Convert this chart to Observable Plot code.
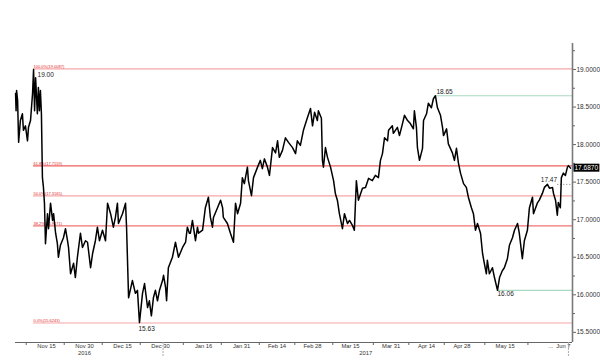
<!DOCTYPE html>
<html><head><meta charset="utf-8">
<script src="https://cdn.jsdelivr.net/npm/d3@7"></script>
<script src="https://cdn.jsdelivr.net/npm/@observablehq/plot@0.6"></script>
<style>
body{margin:0;background:#fff}
svg{font-family:"Liberation Sans",Arial,sans-serif}
</style>
</head><body><div id="chart"></div>
<script>
// ---- data ----
const startDate = "2016-11-15";
// days since startDate
const dayOffsets = [
-12.2,-12.0,-11.8,-11.4,-11.0,-10.3,-9.5,-9.1,-8.3,-7.5,-7.1,-6.3,-5.5,-5.1,-4.7,-4.3,-3.6,-3.2,-2.8,-2.4,
-2.0,-1.6,-1.2,-0.8,-0.4,0.4,0.8,1.6,2.4,2.8,3.6,4.3,4.7,5.5,6.7,7.5,8.3,8.7,9.5,10.7,
11.4,12.2,13.4,14.2,15.4,16.2,17.4,18.2,19.3,20.1,20.9,22.1,23.3,24.1,25.3,26.4,27.2,28.0,28.4,30.0,
31.2,31.6,32.4,33.9,35.1,35.9,36.7,37.9,38.7,39.9,40.6,41.4,42.2,43.0,43.8,44.6,45.8,46.2,47.0,47.4,
48.1,49.7,50.9,52.1,53.7,54.9,55.6,56.4,56.8,57.6,58.0,58.8,59.6,60.0,61.6,62.7,63.9,64.7,65.5,65.9,
67.5,68.7,69.5,69.8,71.4,72.6,73.8,74.6,75.4,76.6,77.3,78.1,79.3,79.7,80.9,81.7,83.3,84.4,85.2,86.0,
87.2,88.0,89.2,90.4,91.2,91.9,93.1,94.3,95.5,97.1,98.3,99.0,100.2,101.4,103.0,104.2,105.0,105.8,106.9,107.3,
108.5,108.9,109.3,110.1,110.9,112.1,113.3,114.0,114.8,115.6,116.8,117.6,118.8,119.6,120.8,121.5,122.3,123.1,124.7,125.9,
127.1,128.6,129.8,131.0,131.8,132.6,133.4,134.6,135.0,136.5,136.9,138.5,139.3,140.5,141.3,142.5,143.6,144.8,145.2,146.0,
146.4,147.2,148.4,148.8,150.0,150.7,151.9,152.7,153.5,154.3,155.5,156.3,156.7,157.9,158.6,160.2,161.0,161.8,162.6,163.4,
164.6,165.7,166.5,167.7,168.5,169.3,170.1,171.3,172.1,172.8,173.6,174.0,174.8,176.0,176.8,178.0,178.8,179.9,180.7,181.9,
182.7,183.9,184.7,185.9,186.6,187.8,188.6,189.8,190.6,191.8,192.2,193.7,194.5,195.7,196.5,197.7,198.5,199.7,200.1,200.9,
201.6,202.0,202.8,203.2,204.0,204.8,205.6,206.0,206.8
];
const prices = [
18.68,18.45,18.72,18.59,18.03,18.32,18.41,18.19,18.25,18.05,18.23,18.32,18.68,19.00,18.45,18.89,18.41,18.76,18.45,18.72,
18.41,17.56,17.43,17.22,16.68,17.08,16.88,17.22,16.99,17.08,16.82,16.68,16.50,16.66,16.76,16.88,16.72,16.63,16.28,16.42,
16.23,16.50,16.82,16.63,16.72,16.70,16.36,16.55,16.72,16.90,16.72,16.86,16.72,17.22,17.08,16.90,17.03,17.22,16.95,17.08,
17.22,16.90,15.96,16.19,16.02,16.06,15.63,16.02,16.15,15.83,15.92,15.72,15.96,16.06,15.92,16.06,16.19,16.26,16.10,15.92,
16.36,16.50,16.70,16.50,16.63,16.70,16.90,16.82,16.82,16.99,16.90,16.72,16.90,16.82,16.86,17.16,17.30,17.03,16.90,17.03,
17.16,17.26,17.16,17.03,16.95,16.82,16.70,17.22,17.08,17.22,17.56,17.48,17.70,17.52,17.32,17.56,17.70,17.79,17.68,17.81,
17.70,17.59,17.96,17.89,18.05,17.83,17.92,18.09,18.03,17.96,17.88,18.05,17.99,18.19,18.36,18.48,18.25,18.43,18.32,18.45,
18.35,17.79,17.70,17.96,17.83,17.70,17.52,17.35,17.26,17.08,16.88,17.08,16.95,16.99,16.92,16.86,17.52,17.26,17.42,17.43,
17.55,17.52,17.59,17.56,17.79,17.88,18.09,18.05,18.19,18.25,18.15,18.23,18.12,18.28,18.39,18.32,18.28,18.21,18.45,18.23,
17.96,17.79,17.95,18.32,18.41,18.55,18.49,18.61,18.65,18.49,18.39,18.23,18.12,18.21,18.01,17.89,17.79,17.95,17.75,17.62,
17.48,17.43,17.30,17.16,17.08,16.86,16.95,16.82,16.55,16.42,16.28,16.46,16.28,16.36,16.23,16.06,16.23,16.32,16.36,16.48,
16.66,16.76,16.86,16.95,16.82,16.48,16.72,16.86,17.16,17.30,17.08,17.22,17.26,17.35,17.43,17.47,17.42,17.43,17.35,17.26,
17.06,17.23,17.16,17.56,17.62,17.59,17.70,17.72,17.687
];

const tickDates = ["2016-11-15","2016-11-30","2016-12-15","2016-12-30","2017-01-16","2017-01-31","2017-02-14","2017-02-28","2017-03-15","2017-03-31","2017-04-14","2017-04-28","2017-05-15","2017-06-02","2017-06-07"];
const tickLabels = ["Nov 15","Nov 30","Dec 15","Dec 30","Jan 16","Jan 31","Feb 14","Feb 28","Mar 15","Mar 31","Apr 14","Apr 28","May 15","...","Jun 7"];
const minorTickDates = ["2016-11-07","2016-11-22","2016-12-07","2016-12-22","2017-01-08","2017-01-23","2017-02-07","2017-02-21","2017-03-08","2017-03-24","2017-04-07","2017-04-21","2017-05-07","2017-05-24"];
const yearLabels = ["2016","2017"];
const yearDates = ["2016-11-30","2017-03-21"];
const separatorDates = ["2016-12-31","2017-06-09"];

const priceTicks = [15.5,16,16.5,17,17.5,18,18.5,19];
const minorPriceTicks = [15.75,16.25,16.75,17.25,17.75,18.25,18.75,19.25];

const fibPct = ["100.0%","61.8%","50.0%","38.2%","0.0%"];
const fibLevels = [19.0087,17.7159,17.3165,16.9171,15.6243];
const fibColors = ["#f6a6a6","#ef5f5f","#f6a6a6","#f07272","#f6a6a6"];

const annotLabels = ["19.00","15.63","18.65","16.06","17.47"];
const annotDays = [-5.1,36.7,153.5,178.0,197.7];
const annotValues = [19.00,15.63,18.65,16.06,17.47];
const annotAnchor = ["start","start","start","start","middle"];
const annotDx = [4,-1,1,0,1.5];
const annotDy = [5,6,-4,4,-4];

const lastPrice = 17.6870;
const dottedStartDay = 201.8;
const xDomain = ["2016-11-02T18:30Z","2017-06-10T14:20Z"];
const yDomain = [15.365,19.346];

// ---- build ----
const t0 = new Date(startDate + "T00:00Z").getTime();
const toDate = d => new Date(t0 + d * 864e5);
const series = dayOffsets.map((d, i) => ({date: toDate(d), price: prices[i]}));
const xEnd = new Date(xDomain[1]);
const fibStart = toDate(annotDays[0]);
const fib = fibLevels.map((v, i) => ({v, label: `${fibPct[i]}(${v.toFixed(4)})`, color: fibColors[i]}));
const annots = annotLabels.map((t, i) => ({t, date: toDate(annotDays[i]), v: annotValues[i], dx: annotDx[i], dy: annotDy[i], anchor: annotAnchor[i]}));
const labelMap = new Map(tickDates.map((d, i) => [+new Date(d + "T00:00Z"), tickLabels[i]]));

const chart = Plot.plot({
  width: 600, height: 362,
  marginTop: 43, marginBottom: 20, marginLeft: 15, marginRight: 28,
  style: {fontFamily: "'Liberation Sans', Arial, sans-serif", background: "#fff"},
  x: {type: "utc", domain: xDomain.map(d => new Date(d)), label: null},
  y: {domain: yDomain, label: null},
  marks: [
    ...fib.map(f => Plot.ruleY([f.v], {x1: () => fibStart, x2: () => xEnd, stroke: f.color, strokeWidth: 1.2})),
    Plot.text(fib, {x: () => fibStart, y: "v", text: "label", textAnchor: "start", dy: -2.6, fill: "#e02828", fontSize: 4}),
    Plot.ruleY([annotValues[2]], {x1: () => toDate(annotDays[2]), x2: () => xEnd, stroke: "#a9d9c0", strokeWidth: 1.2}),
    Plot.ruleY([annotValues[3]], {x1: () => toDate(annotDays[3]), x2: () => xEnd, stroke: "#a9d9c0", strokeWidth: 1.2}),
    Plot.ruleY([annotValues[4]], {x1: () => toDate(dottedStartDay), x2: () => xEnd, stroke: "#555", strokeWidth: 0.8, strokeDasharray: "1,2"}),
    Plot.line(series, {x: "date", y: "price", stroke: "#000", strokeWidth: 1.5}),
    ...annots.map(a => Plot.text([a], {x: "date", y: "v", text: "t", textAnchor: a.anchor, dx: a.dx, dy: a.dy, fontSize: 6.5, fill: "#222"})),
    // axes
    Plot.ruleY([yDomain[0]], {stroke: "#666", strokeWidth: 1}),
    Plot.ruleX([xEnd], {stroke: "#7a7a7a", strokeWidth: 1.6}),
    Plot.axisY(priceTicks, {anchor: "right", tickSize: 3, tickPadding: 1, tickFormat: d => d.toFixed(4), fontSize: 6.5, fill: "#333", stroke: "#666", label: null}),
    Plot.axisY(minorPriceTicks, {anchor: "right", tickSize: 2, tickFormat: () => "", stroke: "#666", label: null}),
    Plot.axisX(tickDates.map(d => new Date(d + "T00:00Z")), {anchor: "bottom", tickSize: 0, tickPadding: 1, tickFormat: d => labelMap.get(+d), fontSize: 5.8, fill: "#333", label: null}),
    Plot.axisX(minorTickDates.map(d => new Date(d + "T00:00Z")), {anchor: "bottom", tickSize: 3, tickFormat: () => "", stroke: "#666", label: null}),
    Plot.text(yearLabels, {x: (d, i) => new Date(yearDates[i] + "T00:00Z"), text: d => d, frameAnchor: "bottom", dy: 12, fontSize: 5.8, fill: "#333"}),
    Plot.ruleX(separatorDates, {x: d => new Date(d + "T00:00Z"), y1: () => yDomain[0], y2: () => yDomain[0], insetBottom: -14, stroke: "#aaa", strokeDasharray: "2,1"}),
    Plot.text([lastPrice], {x: () => xEnd, y: d => d, text: d => d.toFixed(4), textAnchor: "start", dx: 2, fill: "#fff", fontSize: 6.5})
  ]
});
document.getElementById("chart").append(chart);

// black box behind the last-price label
chart.querySelectorAll("text").forEach(t => {
  if (t.textContent === lastPrice.toFixed(4)) {
    const g = t.parentNode;
    if (g.getAttribute("fill") !== "#fff") return;
    const b = t.getBBox();
    const r = document.createElementNS("http://www.w3.org/2000/svg", "rect");
    r.setAttribute("x", b.x - 1); r.setAttribute("y", b.y - 0.5);
    r.setAttribute("width", b.width + 2); r.setAttribute("height", b.height + 1);
    r.setAttribute("fill", "#000");
    const tr = t.getAttribute("transform");
    if (tr) r.setAttribute("transform", tr);
    g.insertBefore(r, t);
  }
});
</script>
</body></html>
